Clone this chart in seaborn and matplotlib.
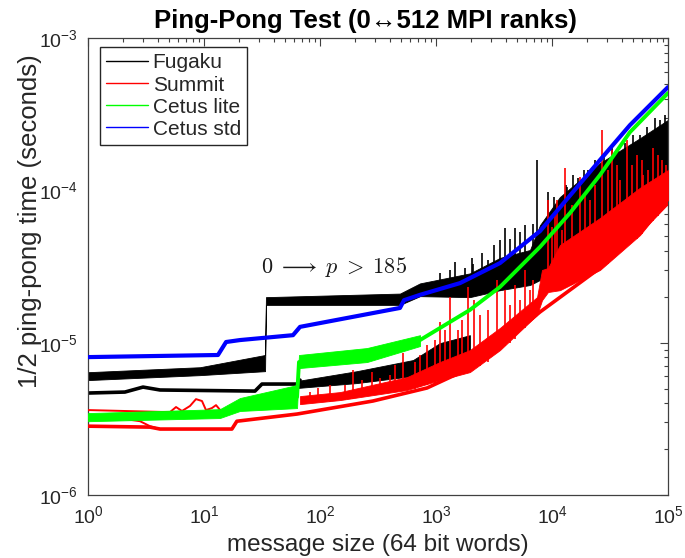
import matplotlib
matplotlib.use("Agg")
import matplotlib.pyplot as plt
from matplotlib.lines import Line2D
import seaborn as sns

# ---------------- data (message size in 64-bit words, time in seconds) ----------------
# Cetus std
blue_x = [1, 13.2, 15.5, 20.4, 58.5, 67.3, 489, 530, 728, 1610, 3560, 7880, 25900, 47000, 1e5]
blue_y = [8.04e-6, 8.30e-6, 1.01e-5, 1.04e-5, 1.12e-5, 1.27e-5, 1.69e-5, 1.90e-5, 2.06e-5,
          2.46e-5, 3.33e-5, 5.40e-5, 1.58e-4, 2.68e-4, 4.76e-4]

# Cetus lite
green_x = [1, 13.7, 20.4, 63.4, 65.9, 254, 270, 728, 1960, 3560, 7880, 14300, 25900, 47000, 1e5]
green_y = [3.24e-6, 3.40e-6, 3.84e-6, 4.40e-6, 7.46e-6, 8.17e-6, 8.94e-6, 1.04e-5, 1.64e-5,
           2.32e-5, 4.25e-5, 7.10e-5, 1.26e-4, 2.41e-4, 4.35e-4]
green_band_x = [1, 13.7, 20.4, 63.4, 65.9, 254, 728]
green_band_lo = [3.05e-6, 3.20e-6, 3.56e-6, 3.72e-6, 6.81e-6, 7.46e-6, 9.50e-6]
green_band_hi = [3.45e-6, 3.66e-6, 4.33e-6, 5.27e-6, 8.30e-6, 9.22e-6, 1.12e-5]

# Fugaku, upper envelope group
fug_up_x = [1, 9.24, 33.6, 34.2, 489, 728, 1960, 3560, 6460, 7880, 11700, 25900, 57400, 1e5]
fug_up_lo = [5.68e-6, 6.12e-6, 6.50e-6, 1.77e-5, 1.77e-5, 2.02e-5, 1.99e-5, 2.21e-5, 2.39e-5,
             2.58e-5, 3.38e-5, 5.48e-5, 8.26e-5, 1.36e-4]
fug_up_hi = [6.40e-6, 6.90e-6, 8.30e-6, 1.99e-5, 2.10e-5, 2.45e-5, 2.85e-5, 3.60e-5, 4.06e-5,
             5.91e-5, 9.04e-5, 1.51e-4, 2.20e-4, 2.90e-4]
fug_spike_x = [1080, 1320, 1460, 1778, 2040, 2100, 2490, 2800, 3160, 3560, 3930, 4350, 4800,
               5300, 5850, 6900, 7430, 9240, 10400, 11700, 13200, 13500, 15200, 16800, 19000,
               20400, 23500, 28000, 32900, 37000, 42600, 50000, 57400, 65900, 77300, 85300,
               94200]
fug_spike_base = [2.0e-5, 2.0e-5, 2.0e-5, 2.0e-5, 2.0e-5, 2.0e-5, 2.1e-5, 2.2e-5, 2.2e-5, 2.2e-5,
                  2.3e-5, 2.3e-5, 2.4e-5, 2.4e-5, 2.4e-5, 2.5e-5, 2.5e-5, 3.0e-5, 3.2e-5, 3.4e-5,
                  4.0e-5, 3.7e-5, 3.9e-5, 4.5e-5, 4.5e-5, 5.0e-5, 5.2e-5, 5.6e-5, 6.0e-5, 6.3e-5,
                  7.0e-5, 8.0e-5, 8.5e-5, 9.5e-5, 1.1e-4, 1.2e-4, 1.3e-4]
fug_spike_peak = [2.86e-5, 3.00e-5, 3.38e-5, 3.09e-5, 3.59e-5, 3.30e-5, 3.87e-5, 3.50e-5, 4.37e-5,
                  4.72e-5, 5.65e-5, 4.80e-5, 5.65e-5, 5.32e-5, 5.91e-5, 6.00e-5, 1.58e-4, 9.75e-5,
                  9.00e-5, 8.63e-5, 1.08e-4, 1.05e-4, 1.26e-4, 1.20e-4, 1.35e-4, 1.36e-4, 1.58e-4,
                  1.70e-4, 1.90e-4, 1.84e-4, 2.05e-4, 2.30e-4, 2.31e-4, 2.61e-4, 2.98e-4, 2.90e-4,
                  3.12e-4]

# Fugaku, lower group
fug_lo_x = [1, 2.08, 2.98, 4.18, 27.5, 31.6, 63.4, 67.3]
fug_lo_y = [4.67e-6, 4.74e-6, 5.11e-6, 4.89e-6, 4.81e-6, 5.35e-6, 5.35e-6, 5.68e-6]
fug_lo_band_x = [63.4, 208, 634, 1080, 1960]
fug_lo_band_lo = [5.04e-6, 5.43e-6, 6.04e-6, 6.41e-6, 7.46e-6]
fug_lo_band_hi = [5.60e-6, 6.50e-6, 7.69e-6, 9.93e-6, 1.12e-5]

# Summit
sum_lo_x = [1, 3.42, 4.18, 17.4, 19.2, 63.4, 286, 836, 1960, 3560, 7880, 25900, 57400, 1e5]
sum_lo_y = [2.83e-6, 2.79e-6, 2.71e-6, 2.71e-6, 3.05e-6, 3.40e-6, 4.14e-6, 5.04e-6, 6.81e-6,
            9.64e-6, 1.59e-5, 3.09e-5, 5.32e-5, 8.26e-5]
sum_a_x = [1, 5.09, 5.74, 6.46, 7.57, 8.53, 9.61, 10.4, 11.7, 12.7, 14.0, 20.4, 63.4]
sum_a_y = [3.61e-6, 3.50e-6, 3.78e-6, 3.56e-6, 3.84e-6, 4.26e-6, 4.14e-6, 3.61e-6, 3.72e-6,
           3.89e-6, 3.56e-6, 3.84e-6, 4.20e-6]
sum_b_x = [1, 1.81, 2.81, 3.42, 4.18]
sum_b_y = [3.20e-6, 3.20e-6, 3.05e-6, 2.83e-6, 2.71e-6]
sum_up_x = [67.3, 149, 562, 1080, 1960, 3560, 7430, 8200, 9240, 11700, 25900, 57400, 1e5]
sum_up_lo = [3.95e-6, 4.20e-6, 4.89e-6, 5.68e-6, 6.41e-6, 8.94e-6, 1.52e-5, 1.90e-5, 2.15e-5,
             2.21e-5, 3.00e-5, 5.09e-5, 8.63e-5]
sum_up_hi = [4.46e-6, 4.74e-6, 5.94e-6, 7.46e-6, 8.94e-6, 1.25e-5, 1.99e-5, 3.00e-5, 3.09e-5,
             4.37e-5, 6.58e-5, 1.04e-4, 1.36e-4]
sum_spike_x = [82, 96, 122, 164, 192, 230, 281, 329, 401, 443, 520, 659, 728, 836, 980, 1080,
               1200, 1320, 1550, 1680, 1890, 2130, 2390, 2800, 3360, 3930, 4350, 4800, 5300,
               5850, 6460, 6860, 9240, 10000, 10600, 11050, 12200, 12900, 14900, 17400, 19300,
               21300, 23500, 27000, 30400, 32900, 36300, 38600, 44300, 48900, 54100, 59700,
               60800, 67300, 74300, 82100, 89100, 96100]
sum_spike_base = [4.0e-6, 4.1e-6, 4.1e-6, 4.2e-6, 4.3e-6, 4.4e-6, 4.5e-6, 4.6e-6, 4.7e-6, 4.8e-6,
                  4.9e-6, 5.0e-6, 5.1e-6, 5.3e-6, 5.4e-6, 5.7e-6, 5.8e-6, 6.0e-6, 6.3e-6, 6.3e-6,
                  6.4e-6, 6.8e-6, 7.0e-6, 7.5e-6, 8.5e-6, 9.5e-6, 1.0e-5, 1.05e-5, 1.2e-5,
                  1.25e-5, 1.4e-5, 1.4e-5, 2.2e-5, 2.2e-5, 2.2e-5, 2.2e-5, 2.3e-5, 2.3e-5, 2.4e-5,
                  2.6e-5, 2.7e-5, 2.8e-5, 2.9e-5, 3.1e-5, 3.3e-5, 3.5e-5, 3.8e-5, 4.0e-5, 4.4e-5,
                  4.6e-5, 4.8e-5, 5.2e-5, 5.3e-5, 5.8e-5, 6.3e-5, 6.8e-5, 7.5e-5, 8.0e-5]
sum_spike_peak = [4.74e-6, 5.04e-6, 5.27e-6, 5.27e-6, 6.61e-6, 5.68e-6, 6.41e-6, 5.86e-6, 6.12e-6,
                  7.13e-6, 8.55e-6, 7.46e-6, 8.30e-6, 9.64e-6, 1.04e-5, 1.36e-5, 1.21e-5, 1.99e-5,
                  1.21e-5, 1.41e-5, 2.32e-5, 1.90e-5, 1.52e-5, 1.64e-5, 2.58e-5, 2.21e-5, 1.77e-5,
                  2.39e-5, 1.90e-5, 3.00e-5, 2.21e-5, 2.58e-5, 8.63e-5, 5.74e-5, 6.89e-5, 8.63e-5,
                  5.48e-5, 1.40e-4, 8.00e-5, 1.22e-4, 9.31e-5, 8.63e-5, 1.08e-4, 2.49e-4, 1.36e-4,
                  1.84e-4, 1.47e-4, 1.17e-4, 2.14e-4, 1.47e-4, 1.71e-4, 1.58e-4, 1.26e-4, 1.36e-4,
                  1.90e-4, 1.71e-4, 1.58e-4, 1.47e-4]

series_names = ["Fugaku", "Summit", "Cetus lite", "Cetus std"]
series_colors = ["#000000", "#ff0000", "#00ff00", "#0000ff"]

# ---------------- style ----------------
sns.set_theme(style="white")
plt.rcParams["font.family"] = ["Liberation Sans", "DejaVu Sans"]
plt.rcParams["mathtext.fontset"] = "custom"
plt.rcParams["mathtext.rm"] = "Liberation Sans"
plt.rcParams["mathtext.it"] = "Liberation Sans:italic"
plt.rcParams["mathtext.bf"] = "Liberation Sans:bold"
plt.rcParams["axes.unicode_minus"] = False

frame_col = "#404040"
text_col = "#262626"

fig = plt.figure(figsize=(6.85, 5.58), dpi=100)
ax = fig.add_axes([88 / 685, 1 - 495 / 558, 580 / 685, 457 / 558])
ax.set_xscale("log")
ax.set_yscale("log")


def trace(x, y, color, lw, z):
    sns.lineplot(x=x, y=y, ax=ax, color=color, linewidth=lw, sort=False,
                 estimator=None, errorbar=None, legend=False, zorder=z)


def band(x, lo, hi, color, z):
    ax.fill_between(x, lo, hi, color=color, linewidth=0.6, zorder=z)


k, r, g, b = series_colors

# Fugaku
band(fug_up_x, fug_up_lo, fug_up_hi, k, 2)
ax.vlines(fug_spike_x, fug_spike_base, fug_spike_peak, colors=k, linewidth=1.2, zorder=2)
trace(fug_lo_x, fug_lo_y, k, 2.6, 2)
band(fug_lo_band_x, fug_lo_band_lo, fug_lo_band_hi, k, 2)

# Summit
trace(sum_lo_x, sum_lo_y, r, 2.6, 3)
trace(sum_a_x, sum_a_y, r, 1.4, 3)
trace(sum_b_x, sum_b_y, r, 1.4, 3)
band(sum_up_x, sum_up_lo, sum_up_hi, r, 3)
ax.vlines(sum_spike_x, sum_spike_base, sum_spike_peak, colors=r, linewidth=1.2, zorder=3)

# Cetus lite
band(green_band_x, green_band_lo, green_band_hi, g, 4)
trace(green_x, green_y, g, 2.8, 4)

# Cetus std
trace(blue_x, blue_y, b, 3.0, 5)

# ---------------- axes ----------------
ax.set_xlim(1, 1e5)
ax.set_ylim(1e-6, 1e-3)
for s in ax.spines.values():
    s.set_color(frame_col)
    s.set_linewidth(0.9)
    s.set_visible(True)
ax.tick_params(which="both", direction="in", top=True, right=True,
               colors=frame_col, labelcolor=text_col, width=0.8)
ax.tick_params(which="major", length=6, labelsize=14, pad=7)
ax.tick_params(which="minor", length=3)

ax.set_title("Ping-Pong Test (0\u2194512 MPI ranks)", fontsize=18.5, fontweight="bold",
             pad=7, color="#000000", x=0.479)
ax.set_xlabel("message size (64 bit words)", fontsize=17.5, labelpad=5, color=text_col)
ax.set_ylabel("1/2 ping-pong time (seconds)", fontsize=18.5, color=text_col)
ax.yaxis.set_label_coords(-0.079, 0.60)

ax.text(133, 3.13e-5, r"$0 \;\longrightarrow\; p \;>\; 185$", math_fontfamily="cm",
        fontsize=16, ha="center", va="center", color="#1a1a1a", zorder=6)

handles = [Line2D([], [], color=c, linewidth=1.0) for c in series_colors]
leg = ax.legend(handles, series_names, loc="upper left", bbox_to_anchor=(0.02, 0.98),
                borderaxespad=0, frameon=True, fancybox=False, framealpha=1,
                edgecolor=text_col, fontsize=15, handlelength=2.0, handletextpad=0.25,
                labelspacing=0.15, borderpad=0.3)
leg.get_frame().set_linewidth(1.0)
leg.set_zorder(10)
for t in leg.get_texts():
    t.set_color(text_col)

fig.savefig("out.png", dpi=100)
